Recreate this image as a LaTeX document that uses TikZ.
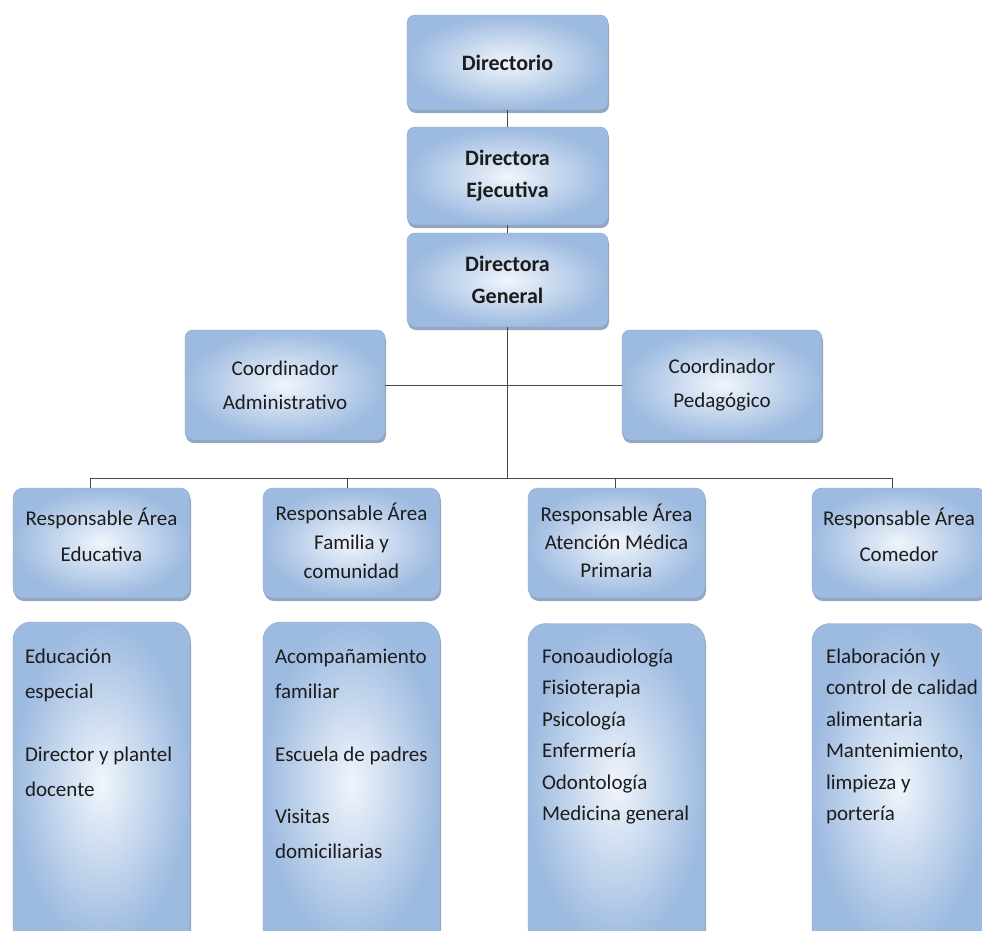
\documentclass[tikz,border=0pt]{standalone}
\usepackage{fontspec}
\setmainfont{Carlito}
\usetikzlibrary{shadows,calc}
\definecolor{boxin}{HTML}{F0F5FB}
\definecolor{boxout}{HTML}{9DBAE0}
\definecolor{boxedge}{HTML}{86A6CF}
\definecolor{shad}{HTML}{3E5E88}
\definecolor{linec}{HTML}{484848}
\definecolor{txt}{HTML}{1C1C1C}
\tikzset{
  orgbox/.style={rectangle, rounded corners=8pt, inner color=boxin, outer color=boxout,
    draw=boxedge, line width=0.4pt,
    drop shadow={shadow xshift=1pt, shadow yshift=-3pt, fill=shad, opacity=0.55},
    text=txt, align=center, inner sep=0pt},
  topbox/.style={orgbox, minimum width=201pt, font=\bfseries\fontsize{22}{32}\selectfont},
  coordbox/.style={orgbox, minimum width=200pt, minimum height=110pt, font=\fontsize{21}{34}\selectfont},
  areabox/.style={orgbox, rounded corners=10pt, minimum height=110pt},
  tallbox/.style={orgbox, rounded corners=18pt, minimum height=323pt},
  arealbl/.style={text=txt, align=center, inner sep=0pt},
  talllbl/.style={text=txt, align=left, inner sep=0pt, anchor=north west},
  conn/.style={draw=linec, line width=0.8pt}
}
\begin{document}
\begin{tikzpicture}[x=1pt,y=-1pt]
\fill[white] (0,0) rectangle (982,930);
\useasboundingbox (0,0) rectangle (982,930);

% top chain
\node[topbox, minimum height=95pt] (dir) at (507.5,62.5) {Directorio};
\node[topbox, minimum height=98pt] (dej) at (507.5,176) {Directora\\Ejecutiva};
\node[topbox, minimum height=94pt] (dge) at (507.5,280) {Directora\\General};

% coordinators
\node[coordbox] (cad) at (285,385) {Coordinador\\Administrativo};
\node[coordbox] (cpe) at (722,385) {Coordinador\\Pedagógico};

% bus coordinates
\coordinate (busC) at (507.5,478);
\coordinate (busL) at (90,478);
\coordinate (busR) at (892,478);
\coordinate (d2) at (347,478);
\coordinate (d3) at (615,478);

% area boxes
\node[areabox, minimum width=177pt] (r1) at (101.5,543) {};
\node[areabox, minimum width=177pt] (r2) at (351.5,543) {};
\node[areabox, minimum width=177pt] (r3) at (616.5,543) {};
\node[areabox, minimum width=174pt] (r4) at (899,543) {};

\node[arealbl, font=\fontsize{21}{36}\selectfont] (r1t) at ($(r1.center)+(0,-8)$) {Responsable Área\\Educativa};
\node[arealbl, font=\fontsize{21}{29}\selectfont] (r2t) at ($(r2.center)+(0,-2)$) {Responsable Área\\Familia y\\comunidad};
\node[arealbl, font=\fontsize{21}{28}\selectfont] (r3t) at ($(r3.center)+(0,-2)$) {Responsable Área\\Atención Médica\\Primaria};
\node[arealbl, font=\fontsize{21}{36}\selectfont] (r4t) at ($(r4.center)+(0,-8)$) {Responsable Área\\Comedor};

% tall boxes
\node[tallbox, minimum width=177pt] (t1) at (101.5,783.5) {};
\node[tallbox, minimum width=177pt] (t2) at (351.5,783.5) {};
\node[tallbox, minimum width=177pt] (t3) at (616.5,785) {};
\node[tallbox, minimum width=174pt] (t4) at (899,785) {};

\node[talllbl, font=\fontsize{21}{35}\selectfont] (t1t) at ($(t1.north west)+(12,27)$)
  {Educación\\especial\\[28pt]Director y plantel\\docente};
\node[talllbl, font=\fontsize{21}{35}\selectfont] (t2t) at ($(t2.north west)+(12,27)$)
  {Acompañamiento\\familiar\\[28pt]Escuela de padres\\[27pt]Visitas\\domiciliarias};
\node[talllbl, font=\fontsize{21}{31.5}\selectfont] (t3t) at ($(t3.north west)+(14,25)$)
  {Fonoaudiología\\Fisioterapia\\Psicología\\Enfermería\\Odontología\\Medicina general};
\node[talllbl, font=\fontsize{21}{31.5}\selectfont] (t4t) at ($(t4.north west)+(14,25)$)
  {Elaboración y\\control de calidad\\alimentaria\\Mantenimiento,\\limpieza y\\portería};

% connectors
\draw[conn] (dir.south) -- (dej.north);
\draw[conn] (dej.south) -- (dge.north);
\draw[conn] (dge.south) -- (busC);
\draw[conn] (cad.east) -- (cpe.west);
\draw[conn] (busL) -- (busR);
\draw[conn] (busL) -- (busL |- r1.north);
\draw[conn] (d2) -- (d2 |- r2.north);
\draw[conn] (d3) -- (d3 |- r3.north);
\draw[conn] (busR) -- (busR |- r4.north);
\end{tikzpicture}
\end{document}
